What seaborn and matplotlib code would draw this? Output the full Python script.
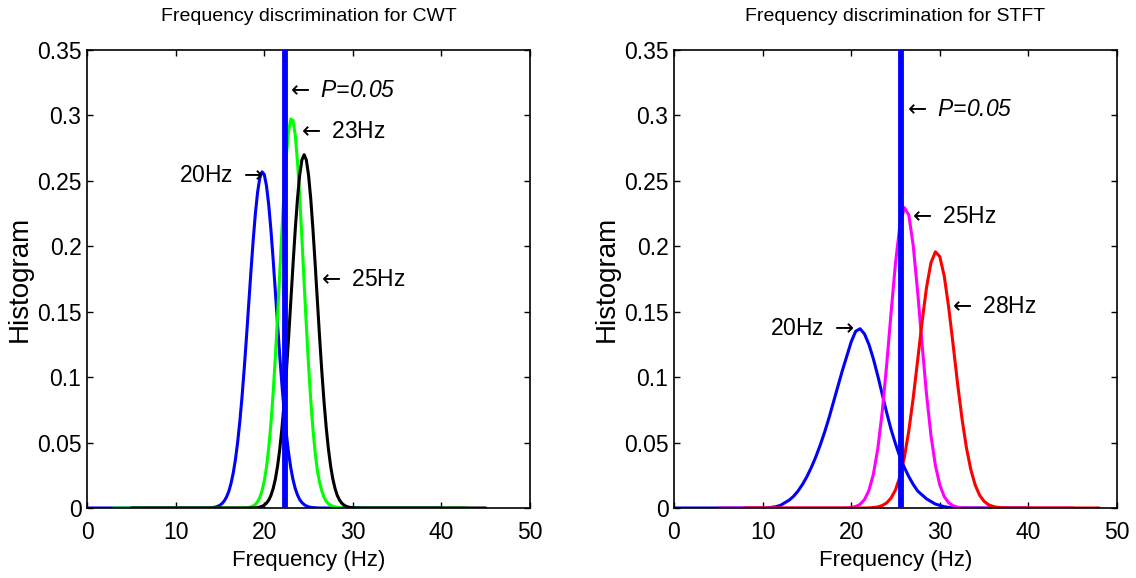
import numpy as np
import pandas as pd
import matplotlib
matplotlib.use("Agg")
import matplotlib.pyplot as plt
import matplotlib.ticker as mticker
import seaborn as sns

cwt_freq = np.arange(13.0, 31.01, 0.25)
cwt_20hz = [0, 0, 0.0001, 0.0001, 0.0002, 0.0004, 0.0007, 0.0013, 0.0021, 0.0035,
            0.0055, 0.0085, 0.0127, 0.0187, 0.0267, 0.0371, 0.0503, 0.0664, 0.0855, 0.1072,
            0.1309, 0.1559, 0.1808, 0.2043, 0.2250, 0.2413, 0.2522, 0.2569, 0.2549, 0.2464,
            0.2321, 0.2130, 0.1904, 0.1659, 0.1408, 0.1165, 0.0939, 0.0737, 0.0564, 0.0420,
            0.0305, 0.0216, 0.0149, 0.0100, 0.0065, 0.0042, 0.0026, 0.0016, 0.0009, 0.0005,
            0.0003, 0.0002, 0.0001,
            0, 0, 0, 0, 0, 0, 0, 0, 0, 0, 0, 0, 0, 0, 0, 0, 0, 0, 0, 0]
cwt_23hz = [0, 0, 0, 0, 0, 0, 0, 0, 0, 0, 0, 0, 0, 0, 0, 0, 0, 0, 0,
            0.0001, 0.0002, 0.0004, 0.0008, 0.0015, 0.0028, 0.0048, 0.0081, 0.0131, 0.0205,
            0.0310, 0.0454, 0.0640, 0.0873, 0.1149, 0.1461, 0.1794, 0.2127, 0.2437, 0.2696,
            0.2880, 0.2972, 0.2961, 0.2850, 0.2649, 0.2378, 0.2062, 0.1727, 0.1396, 0.1091,
            0.0823, 0.0599, 0.0422, 0.0286, 0.0195, 0.0130, 0.0082, 0.0050, 0.0032, 0.0020,
            0.0013, 0.0008, 0.0005, 0.0003, 0.0001,
            0, 0, 0, 0, 0, 0, 0, 0, 0]
cwt_25hz = [0, 0, 0, 0, 0, 0, 0, 0, 0, 0, 0, 0, 0, 0, 0, 0, 0, 0, 0, 0, 0, 0,
            0.0001, 0.0001, 0.0002, 0.0004, 0.0007, 0.0013, 0.0022, 0.0037, 0.0060, 0.0095,
            0.0147, 0.0219, 0.0318, 0.0447, 0.0611, 0.0810, 0.1043, 0.1303, 0.1581, 0.1862,
            0.2128, 0.2362, 0.2544, 0.2660, 0.2700, 0.2660, 0.2544, 0.2362, 0.2128, 0.1862,
            0.1581, 0.1303, 0.1043, 0.0810, 0.0611, 0.0447, 0.0318, 0.0219, 0.0147, 0.0095,
            0.0060, 0.0037, 0.0022, 0.0013, 0.0007, 0.0004, 0.0002, 0.0001, 0.0001,
            0, 0]
cwt_span = [(0, 40), (3, 43), (5, 45)]
cwt_names = ["20Hz", "23Hz", "25Hz"]
cwt_colors = ["#0000ff", "#00ff00", "#000000"]
cwt_p = 22.3

# STFT histograms, sampled every 0.5 Hz
stft_freq = np.arange(10.0, 40.5, 0.5)
stft_20hz = [0, 0, 0.0005, 0.001, 0.002, 0.004, 0.006, 0.009, 0.013, 0.018,
             0.024, 0.031, 0.039, 0.048, 0.058, 0.069, 0.081, 0.093, 0.105, 0.116,
             0.127, 0.135, 0.137, 0.133, 0.125, 0.114, 0.101, 0.087, 0.073, 0.060,
             0.049, 0.039, 0.031, 0.024, 0.018, 0.013, 0.010, 0.007, 0.005, 0.003,
             0.002, 0.001, 0.0005,
             0, 0, 0, 0, 0, 0, 0, 0, 0, 0, 0, 0, 0, 0, 0, 0, 0, 0]
stft_25hz = [0, 0, 0, 0, 0, 0, 0, 0, 0, 0, 0, 0, 0, 0, 0, 0, 0, 0, 0,
             0.0001, 0.0004, 0.0011, 0.0028, 0.0064, 0.0134, 0.0257, 0.0453, 0.0734, 0.1092,
             0.1492, 0.1874, 0.2164, 0.2296, 0.2239, 0.2005, 0.1651, 0.1250, 0.0869, 0.0555,
             0.0326, 0.0176, 0.0087, 0.0040, 0.0017, 0.0006, 0.0002, 0.0001,
             0, 0, 0, 0, 0, 0, 0, 0, 0, 0, 0, 0, 0, 0]
stft_28hz = [0, 0, 0, 0, 0, 0, 0, 0, 0, 0, 0, 0, 0, 0, 0, 0, 0, 0, 0, 0, 0, 0, 0, 0,
             0.0001, 0.0004, 0.0008, 0.0019, 0.0039, 0.0076, 0.0139, 0.0240, 0.0388, 0.0590,
             0.0842, 0.1130, 0.1423, 0.1685, 0.1874, 0.1958, 0.1921, 0.1772, 0.1534, 0.1249,
             0.0954, 0.0685, 0.0462, 0.0293, 0.0174, 0.0097, 0.0051, 0.0025, 0.0012, 0.0005,
             0.0002, 0.0001, 0, 0, 0, 0, 0]
stft_span = [(0, 40), (5, 45), (8, 48)]
stft_names = ["20Hz", "25Hz", "28Hz"]
stft_colors = ["#0000ff", "#ff00ff", "#ff0000"]
stft_p = 25.6

LA = r"$\leftarrow$ "
RA = r" $\rightarrow$"
# labels: (x, y, text, align)
cwt_notes = [(22.45, 0.319, LA + "P=0.05", "left"),
             (23.65, 0.2875, LA + "23Hz", "left"),
             (19.85, 0.254, "20Hz" + RA, "right"),
             (25.9, 0.175, LA + "25Hz", "left")]
stft_notes = [(25.8, 0.3045, LA + "P=0.05", "left"),
              (26.4, 0.2225, LA + "25Hz", "left"),
              (30.9, 0.154, LA + "28Hz", "left"),
              (20.3, 0.1373, "20Hz" + RA, "right")]

sns.set_style("ticks")
plt.rcParams["font.family"] = ["Liberation Sans", "DejaVu Sans"]
for key in ["text.color", "axes.labelcolor", "xtick.color", "ytick.color",
            "axes.edgecolor"]:
    plt.rcParams[key] = "black"


def draw_panel(ax, freq, curves, names, spans, colors, p_freq, title, notes):
    parts = []
    for name, vals, (lo, hi) in zip(names, curves, spans):
        xs = [lo] + list(freq) + [hi]
        ys = [0] + list(vals) + [0]
        parts.append(pd.DataFrame({"freq": xs, "hist": ys, "signal": name}))
    df = pd.concat(parts, ignore_index=True)
    sns.lineplot(data=df, x="freq", y="hist", hue="signal", hue_order=names,
                 palette=colors, estimator=None, sort=False, lw=2.2,
                 legend=False, ax=ax)
    ax.axvline(p_freq, color="#0000ff", lw=4.2, zorder=5)

    for x, y, txt, ha in notes:
        style = "italic" if "P=" in txt else "normal"
        ax.text(x, y, txt, ha=ha, va="center", fontsize=16.5, fontstyle=style)

    ax.set_xlim(0, 50)
    ax.set_ylim(0, 0.35)
    ax.set_xticks(range(0, 51, 10))
    ax.set_yticks(np.arange(0, 0.351, 0.05))
    ax.yaxis.set_major_formatter(mticker.FormatStrFormatter("%g"))
    ax.tick_params(direction="in", top=True, right=True, length=4, width=1,
                   labelsize=16.5)
    ax.tick_params(axis="x", pad=9)
    ax.tick_params(axis="y", pad=4)
    for s in ax.spines.values():
        s.set_visible(True)
        s.set_linewidth(1.2)
    ax.set_title(title, fontsize=14, pad=21)
    ax.set_xlabel("Frequency (Hz)", fontsize=16, labelpad=5)
    ax.set_ylabel("Histogram", fontsize=20, labelpad=3)


fig = plt.figure(figsize=(11.36, 5.78), dpi=100)
ax1 = fig.add_axes([0.0766, 0.1211, 0.390, 0.7924])
ax2 = fig.add_axes([0.5933, 0.1211, 0.390, 0.7924])

draw_panel(ax1, cwt_freq, [cwt_20hz, cwt_23hz, cwt_25hz], cwt_names, cwt_span,
           cwt_colors, cwt_p, "Frequency discrimination for CWT", cwt_notes)
draw_panel(ax2, stft_freq, [stft_20hz, stft_25hz, stft_28hz], stft_names, stft_span,
           stft_colors, stft_p, "Frequency discrimination for STFT", stft_notes)

fig.savefig("out.png", dpi=100)
